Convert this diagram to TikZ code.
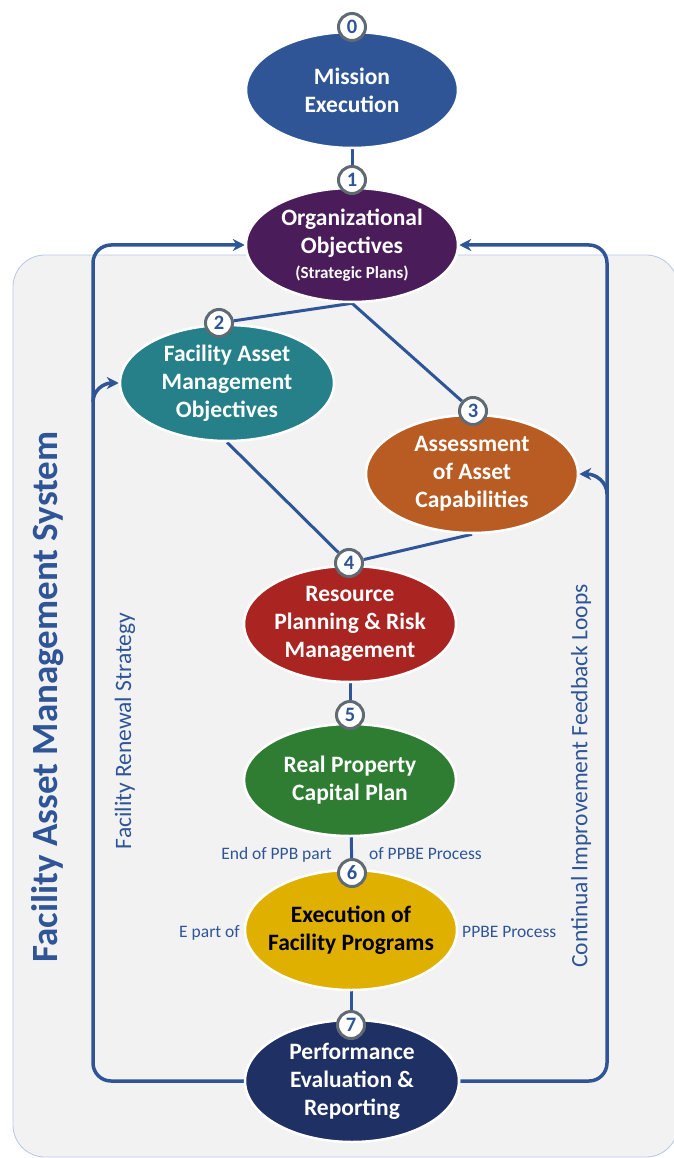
\documentclass[tikz,border=0pt]{standalone}
\usepackage{fontspec}
\setmainfont{Carlito}
\usetikzlibrary{shapes.geometric,arrows.meta}

\definecolor{lineblue}{HTML}{2F5597}
\definecolor{numgray}{HTML}{5F6A72}
\definecolor{boxfill}{HTML}{F2F2F2}
\definecolor{boxline}{HTML}{B4C7E7}
\definecolor{cMission}{HTML}{2F5597}
\definecolor{cOrg}{HTML}{4B1C5A}
\definecolor{cFam}{HTML}{258089}
\definecolor{cAssess}{HTML}{B85C24}
\definecolor{cResource}{HTML}{AA2521}
\definecolor{cCapital}{HTML}{2E7D32}
\definecolor{cExec}{HTML}{E0B000}
\definecolor{cPerf}{HTML}{1F3064}

\pgfdeclarelayer{back}
\pgfdeclarelayer{lines}
\pgfsetlayers{back,lines,main}

\tikzset{
  % negative inner sep keeps every ellipse at its fixed size
  ell/.style={ellipse, draw=white, line width=2.5pt, minimum width=212pt,
    minimum height=116pt, inner xsep=-20pt, inner ysep=-12pt, align=center,
    text=white, font=\fontsize{23.5}{28}\selectfont\bfseries},
  num/.style={circle, draw=numgray, line width=3pt, fill=white,
    minimum size=27pt, inner sep=0pt, text=lineblue,
    font=\fontsize{20.5}{20}\selectfont\bfseries},
  conn/.style={draw=lineblue, line width=3pt},
  loopline/.style={draw=lineblue, line width=3.5pt, rounded corners=18pt,
    -{Stealth[length=12pt,width=12pt]}},
  lbl/.style={text=lineblue, inner sep=0pt, font=\fontsize{17.5}{20}\selectfont},
  sidetext/.style={text=lineblue, rotate=90, inner sep=0pt,
    font=\fontsize{23.5}{26}\selectfont},
}

\begin{document}
\begin{tikzpicture}[x=1pt,y=-1pt]
\useasboundingbox (0,0) rectangle (673,1158);

% process ellipses
\node[ell, fill=cMission] (m0) at (352,90) {Mission\\Execution};
\node[ell, fill=cOrg, minimum height=114pt] (m1) at (352,245)
  {Organizational\\Objectives\\[-3pt]{\fontsize{17}{20}\selectfont (Strategic Plans)}};
\node[ell, fill=cFam, minimum width=214pt] (m2) at (227,383)
  {Facility Asset\\Management\\Objectives};
\node[ell, fill=cAssess, minimum height=118pt] (m3) at (472,474)
  {Assessment\\of Asset\\Capabilities};
\node[ell, fill=cResource] (m4) at (350,624)
  {Resource\\Planning \& Risk\\Management};
\node[ell, fill=cCapital, minimum height=112pt] (m5) at (350,780)
  {Real Property\\Capital Plan};
\node[ell, fill=cExec, text=black, minimum height=120pt] (m6) at (351,930)
  {Execution of\\Facility Programs};
\node[ell, fill=cPerf, minimum width=214pt, minimum height=122pt] (m7) at (352,1081)
  {Performance\\Evaluation \&\\Reporting};

% step numbers
\node[num] (n0) at (352,27) {0};
\node[num] (n1) at (352,180) {1};
\node[num] (n2) at (219,323) {2};
\node[num] (n3) at (473,411) {3};
\node[num] (n4) at (349,563) {4};
\node[num] (n5) at (350,715) {5};
\node[num] (n6) at (352,873) {6};
\node[num] (n7) at (351,1025) {7};

% loop corners and branch points
\coordinate (lt) at (93,245);
\coordinate (rt) at (607,245);
\coordinate (lb) at (93,402);
\coordinate (rb) at (607,494);

\begin{pgfonlayer}{back}
  \fill[boxfill, draw=boxline, line width=0.8pt, rounded corners=32pt]
    (13,255) rectangle (678,1157);
\end{pgfonlayer}

\begin{pgfonlayer}{lines}
  \draw[conn] (m0) -- (n1);
  \draw[conn] (n2) -- (m1.south) -- (n3);
  \draw[conn] (m2.south) -- (n4);
  \draw[conn] (m3.south) -- (n4);
  \draw[conn] (m4) -- (n5);
  \draw[conn] (m5) -- (n6);
  \draw[conn] (m6) -- (n7);
  % feedback loops
  \draw[loopline] (m7) -| (lt) -- (m1);
  \draw[loopline] (m7) -| (rt) -- (m1);
  \draw[loopline, rounded corners=0pt] (lb) .. controls (93,390) and (104,383) .. (m2.west);
  \draw[loopline, rounded corners=0pt] (rb) .. controls (607,482) and (596,474) .. (m3.east);
\end{pgfonlayer}

% PPBE labels
\node[lbl, anchor=base east] (ppbA) at (332,859) {End of PPB part};
\node[lbl, anchor=base west] (ppbB) at (369,859) {of PPBE Process};
\node[lbl, anchor=base east] (ppbC) at (240,937) {E part of};
\node[lbl, anchor=base west] (ppbD) at (462,937) {PPBE Process};

% side texts
\node[sidetext, font=\fontsize{37}{40}\selectfont\bfseries] (title) at (48,697)
  {Facility Asset Management System};
\node[sidetext] (renew) at (125,731) {Facility Renewal Strategy};
\node[sidetext] (cont) at (581,776) {Continual Improvement Feedback Loops};
\end{tikzpicture}
\end{document}
